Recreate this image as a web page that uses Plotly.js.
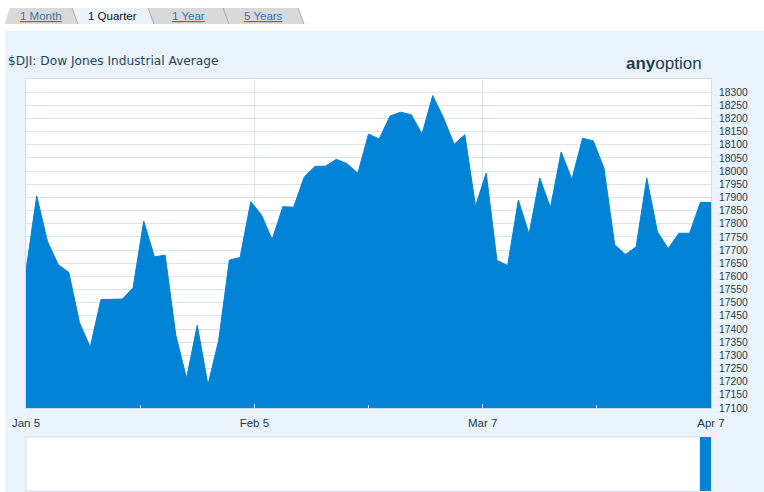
<!DOCTYPE html>
<html><head><meta charset="utf-8">
<script src="https://cdn.plot.ly/plotly-3.0.1.min.js"></script>
<style>html,body{margin:0;padding:0;background:#fff;}#chart{width:764px;height:492px;}</style>
</head><body><div id="chart"></div>
<script>
// ---- data ----
const dates = [
 'Jan 7','Jan 8','Jan 9','Jan 12','Jan 13','Jan 14','Jan 15','Jan 16','Jan 19','Jan 20','Jan 21','Jan 22','Jan 23','Jan 26','Jan 27','Jan 28','Jan 29','Jan 30',
 'Feb 2','Feb 3','Feb 4','Feb 5','Feb 6','Feb 9','Feb 10','Feb 11','Feb 12','Feb 13','Feb 16','Feb 17','Feb 18','Feb 19','Feb 20','Feb 23','Feb 24','Feb 25','Feb 26','Feb 27',
 'Mar 2','Mar 3','Mar 4','Mar 5','Mar 6','Mar 9','Mar 10','Mar 11','Mar 12','Mar 13','Mar 16','Mar 17','Mar 18','Mar 19','Mar 20','Mar 23','Mar 24','Mar 25','Mar 26','Mar 27','Mar 30','Mar 31',
 'Apr 1','Apr 2','Apr 3','Apr 6','Apr 7'];
const closes = [
 17623,17906,17734,17645,17615,17424,17331,17512,17513,17514,17556,17810,17674,17681,17376,17213,17414,17188,
 17357,17662,17672,17884,17833,17740,17865,17863,17978,18018,18019,18045,18028,17992,18141,18122,18209,18224,18214,18141,
 18287,18203,18102,18138,17867,17993,17661,17641,17890,17761,17974,17861,18073,17969,18125,18115,18011,17721,17683,17712,17974,17769,
 17706,17764,17764,17881,17881];
const xTickLabels = ['Jan 5','Feb 5','Mar 7','Apr 7'];
const yTickValues = [17100,17150,17200,17250,17300,17350,17400,17450,17500,17550,17600,17650,17700,17750,17800,17850,17900,17950,18000,18050,18100,18150,18200,18250,18300];
const tabLabels = ['1 Month','1 Quarter','1 Year','5 Years'];
const activeTab = 1;
const chartTitle = '$DJI: Dow Jones Industrial Average';

// ---- geometry helpers (pixel -> paper) ----
const W = 764, H = 492, ML = 26, MR = 53, MT = 79, MB = 1;
const PW = W - ML - MR, PH = H - MT - MB;
const fx = px => (px - ML) / PW;
const fy = py => (H - MB - py) / PH;

const xIdx = dates.map((d, i) => i);
const nLast = dates.length - 1;
const xTickVals = xTickLabels.map((t, k) => nLast * k / (xTickLabels.length - 1));

const BLUE = '#0283d5';
const PANEL = '#eaf2fa';
const GRID = '#dbe4ec';
const TXT = '#1d3a4f';

const shapes = [];
const annotations = [];
// white strips outside the panel
shapes.push({type:'rect', xref:'paper', yref:'paper', x0:fx(0), x1:fx(W), y0:fy(31), y1:fy(0), fillcolor:'#ffffff', line:{width:0}, layer:'below'});
shapes.push({type:'rect', xref:'paper', yref:'paper', x0:fx(0), x1:fx(5), y0:fy(H), y1:fy(0), fillcolor:'#ffffff', line:{width:0}, layer:'below'});
// tabs
const tabEdges = [[5,10],[78,72],[154,148],[229,223],[304,298]];
tabLabels.forEach((t, k) => {
  const [lb, lt] = tabEdges[k], [rb, rt] = tabEdges[k+1];
  const path = `M${fx(lb)},${fy(24)} L${fx(lt)},${fy(8)} L${fx(rt)},${fy(8)} L${fx(rb)},${fy(24)} Z`;
  shapes.push({type:'path', xref:'paper', yref:'paper', path, fillcolor: k === activeTab ? '#e9f2fa' : '#d9d9d9', line:{width:0}, layer:'below'});
});
tabEdges.forEach(([b, t], k) => {
  shapes.push({type:'line', xref:'paper', yref:'paper', x0:fx(b), y0:fy(24), x1:fx(t), y1:fy(8), line:{color: k === 0 ? '#e6e6e6' : '#a9a9a9', width:1}, layer:'below'});
});
tabLabels.forEach((t, k) => {
  const cx = (tabEdges[k][0] + tabEdges[k][1] + tabEdges[k+1][0] + tabEdges[k+1][1]) / 4;
  annotations.push({xref:'paper', yref:'paper', x:fx(cx), y:fy(16), text:t, showarrow:false, xanchor:'center', yanchor:'middle',
    font:{family:'Liberation Sans, Arial, sans-serif', size:11.5, color: k === activeTab ? '#111111' : '#2e79ad', lineposition: k === activeTab ? 'none' : 'under'}});
});
// title + logo
annotations.push({xref:'paper', yref:'paper', x:fx(6), y:fy(61.5), text:chartTitle, showarrow:false, xanchor:'left', yanchor:'middle',
  font:{family:'DejaVu Sans, Verdana, sans-serif', size:12.2, color:'#264559'}});
annotations.push({xref:'paper', yref:'paper', x:fx(704), y:fy(63), text:'<b>any</b>option', showarrow:false, xanchor:'right', yanchor:'middle',
  font:{family:'Liberation Sans, Arial, sans-serif', size:17, color:'#1c3d58'}});
// navigator
shapes.push({type:'rect', xref:'paper', yref:'paper', x0:fx(26), x1:fx(700), y0:fy(491), y1:fy(437), fillcolor:'#ffffff', line:{color:'#d3dde6', width:1}, layer:'below'});
shapes.push({type:'rect', xref:'paper', yref:'paper', x0:fx(700), x1:fx(711), y0:fy(491), y1:fy(437), fillcolor:BLUE, line:{width:0}, layer:'below'});

const trace = {
  x: xIdx, y: closes, text: dates, type:'scatter', mode:'lines', fill:'tozeroy',
  fillcolor: BLUE, line:{color: BLUE, width:1}, hoverinfo:'skip'
};

const layout = {
  width: W, height: H,
  margin:{l:ML, r:MR, t:MT, b:MB, pad:0},
  paper_bgcolor: PANEL, plot_bgcolor:'#ffffff',
  showlegend:false, hovermode:false,
  xaxis:{
    range:[0, nLast], tickvals:xTickVals, ticktext:xTickLabels,
    showgrid:true, gridcolor:GRID, gridwidth:1,
    ticks:'inside', ticklen:4, tickcolor:'#d7e1ea', ticklabelstandoff:4,
    minor:{dtick: nLast/6, tick0:0, ticks:'inside', ticklen:3, tickcolor:'#d7e1ea', showgrid:false},
    showline:true, linecolor:'#d3dde6', linewidth:1, mirror:true,
    zeroline:false, fixedrange:true,
    tickfont:{family:'Liberation Sans, Arial, sans-serif', size:11.5, color:TXT}
  },
  yaxis:{
    domain:[fy(408), 1], range:[17100, 18350], side:'right',
    tickvals:yTickValues, tickformat:'d', ticks:'', ticklabelstandoff:5,
    showgrid:true, gridcolor:GRID, gridwidth:1,
    showline:true, linecolor:'#d3dde6', linewidth:1, mirror:true,
    zeroline:false, fixedrange:true,
    tickfont:{family:'Liberation Sans, Arial, sans-serif', size:10.3, color:TXT}
  },
  yaxis2:{
    overlaying:'y', side:'left', range:[17100, 18350], dtick:25, tick0:17100,
    ticks:'inside', ticklen:3, tickcolor:'#d3dde6', showticklabels:false,
    showgrid:false, zeroline:false, showline:false, fixedrange:true
  },
  shapes, annotations
};

Plotly.newPlot('chart', [trace], layout, {staticPlot:true, displayModeBar:false});
</script></body></html>
